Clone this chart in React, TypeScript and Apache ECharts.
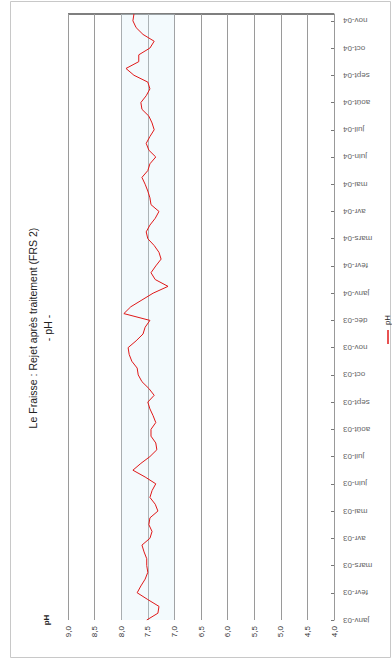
import React, { useEffect, useRef } from "react";
import * as echarts from "echarts";

const titleLines = ["Le Fraisse : Rejet après traitement (FRS 2)", "- pH -"];
const seriesName = "pH";

// Month tick labels, first (bottom) to last (top)
const monthLabels = [
  "janv-03", "févr-03", "mars-03", "avr-03", "mai-03", "juin-03", "juil-03", "août-03",
  "sept-03", "oct-03", "nov-03", "déc-03", "janv-04", "févr-04", "mars-04", "avr-04",
  "mai-04", "juin-04", "juil-04", "août-04", "sept-04", "oct-04", "nov-04",
];

// pH readings, first to last (4 readings per month label)
const phValues = [
  7.52, 7.31, 7.29, 7.50, 7.70, 7.63, 7.55, 7.50, 7.52, 7.52,
  7.57, 7.61, 7.46, 7.42, 7.48, 7.46, 7.31, 7.36, 7.46, 7.42,
  7.35, 7.55, 7.78, 7.63, 7.46, 7.33, 7.35, 7.44, 7.44, 7.35,
  7.40, 7.46, 7.50, 7.38, 7.48, 7.61, 7.68, 7.70, 7.80, 7.85,
  7.87, 7.72, 7.59, 7.55, 7.46, 7.95, 7.82, 7.61, 7.40, 7.12,
  7.36, 7.44, 7.35, 7.25, 7.29, 7.38, 7.50, 7.53, 7.46, 7.36,
  7.29, 7.44, 7.46, 7.50, 7.55, 7.61, 7.50, 7.46, 7.35, 7.48,
  7.53, 7.46, 7.38, 7.42, 7.48, 7.61, 7.63, 7.53, 7.46, 7.50,
  7.76, 7.91, 7.67, 7.67, 7.46, 7.38, 7.59, 7.72, 7.78, 7.76,
];

const phMin = 4;
const phMax = 9;
const phStep = 0.5;
const bandFrom = 8;
const bandTo = 7;

const FONT = "'Liberation Sans', Arial, sans-serif";

export default function App() {
  const ref = useRef<HTMLDivElement>(null);

  useEffect(() => {
    const chart = echarts.init(ref.current!, null, { renderer: "svg" });
    const categories = phValues.map((_, i) =>
      i % 4 === 0 ? monthLabels[i / 4] : `${monthLabels[Math.floor(i / 4)]} #${(i % 4) + 1}`
    );

    chart.setOption({
      animation: false,
      backgroundColor: "#ffffff",
      grid: { left: 68, right: 58, top: 14, bottom: 44, containLabel: false },
      xAxis: {
        type: "value",
        min: phMin,
        max: phMax,
        interval: phStep,
        inverse: true,
        position: "bottom",
        name: "pH",
        nameLocation: "end",
        nameGap: 18,
        nameRotate: 90,
        nameTextStyle: { fontFamily: FONT, fontSize: 8, fontWeight: "bold", color: "#222" },
        axisLine: { show: false },
        axisTick: { show: false },
        splitLine: { show: true, lineStyle: { color: "#9a9a9a", width: 1 } },
        axisLabel: {
          rotate: 90,
          margin: 6,
          fontFamily: FONT,
          fontSize: 8,
          color: "#333",
          formatter: (v: number) => v.toFixed(1).replace(".", ","),
        },
      },
      yAxis: {
        type: "category",
        position: "right",
        boundaryGap: false,
        data: categories,
        axisLine: { show: true, lineStyle: { color: "#999", width: 1 } },
        axisTick: { show: true, inside: true, length: 3, interval: 3, lineStyle: { color: "#777" } },
        axisLabel: {
          interval: 3,
          rotate: 180,
          margin: 9,
          fontFamily: FONT,
          fontSize: 8,
          color: "#666",
        },
        splitLine: { show: false },
      },
      series: [
        {
          name: seriesName,
          type: "line",
          data: phValues,
          showSymbol: false,
          symbol: "none",
          lineStyle: { color: "#e01818", width: 1 },
          markArea: {
            silent: true,
            itemStyle: { color: "rgba(215,240,248,0.3)" },
            data: [[{ xAxis: bandFrom }, { xAxis: bandTo }]],
          },
        },
      ],
      graphic: [
        {
          type: "rect",
          shape: { x: 10.5, y: 1.5, width: 380, height: 656 },
          style: { fill: "none", stroke: "#c8c8c8", lineWidth: 1 },
          silent: true,
        },
        {
          type: "line",
          shape: { x1: 68, y1: 14, x2: 334, y2: 14 },
          style: { stroke: "#555", lineWidth: 1.5 },
          silent: true,
        },
        {
          type: "text",
          x: 40,
          y: 328,
          rotation: Math.PI / 2,
          style: {
            text: titleLines.join("\n"),
            textAlign: "center",
            textVerticalAlign: "middle",
            font: `10.5px ${FONT}`,
            lineHeight: 15,
            fill: "#222",
          },
          silent: true,
        },
        {
          type: "line",
          shape: { x1: 388, y1: 330, x2: 388, y2: 344 },
          style: { stroke: "#e01818", lineWidth: 1.5 },
          silent: true,
        },
        {
          type: "text",
          x: 387,
          y: 320,
          rotation: Math.PI / 2,
          style: {
            text: seriesName,
            textAlign: "center",
            textVerticalAlign: "middle",
            font: `8px ${FONT}`,
            fill: "#222",
          },
          silent: true,
        },
      ],
    });

    return () => chart.dispose();
  }, []);

  return (
    <div
      ref={ref}
      style={{ position: "fixed", left: 0, top: 0, width: 392, height: 664, background: "#fff" }}
    />
  );
}
